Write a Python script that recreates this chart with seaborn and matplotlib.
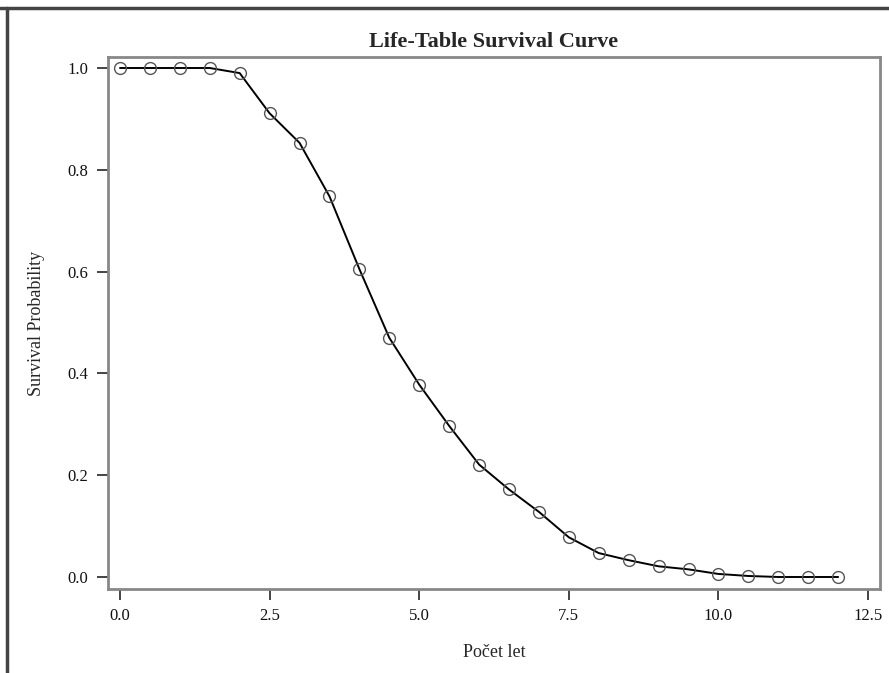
import matplotlib
matplotlib.use("Agg")
import matplotlib.pyplot as plt
from matplotlib.lines import Line2D
import seaborn as sns
import pandas as pd

years = [0, 0.5, 1, 1.5, 2, 2.5, 3, 3.5, 4, 4.5, 5, 5.5, 6, 6.5, 7, 7.5, 8, 8.5, 9, 9.5, 10, 10.5, 11, 11.5, 12]
survival = [1.0, 1.0, 1.0, 1.0, 0.99, 0.911, 0.853, 0.748, 0.605, 0.47, 0.378, 0.297, 0.221, 0.172, 0.128, 0.078, 0.047, 0.033, 0.021, 0.015, 0.006, 0.002, 0.0, 0.0, 0.0]
xticks = [0.0, 2.5, 5.0, 7.5, 10.0, 12.5]
yticks = [0.0, 0.2, 0.4, 0.6, 0.8, 1.0]

df = pd.DataFrame({"x": years, "y": survival})

sns.set_theme(style="white")
plt.rcParams["font.family"] = ["Liberation Serif", "DejaVu Serif"]

fig = plt.figure(figsize=(8.89, 6.73), dpi=100)
ax = fig.add_axes([0.1215, 0.1248, 0.8684, 0.7905])

sns.lineplot(data=df, x="x", y="y", ax=ax, color="black", linewidth=1.4,
             marker="o", markersize=8.5, markerfacecolor="none",
             markeredgecolor="#555555", markeredgewidth=1.0)

ax.set_xlim(-0.2, 12.7)
ax.set_ylim(-0.0236, 1.0216)
ax.set_xticks(xticks)
ax.set_xticklabels([f"{t:.1f}" for t in xticks])
ax.set_yticks(yticks)
ax.set_yticklabels([f"{t:.1f}" for t in yticks])
ax.tick_params(axis="both", which="both", direction="out", length=8, width=1.4,
               colors="#444444", labelcolor="#111111", labelsize=12,
               bottom=True, left=True, pad=6)
for s in ax.spines.values():
    s.set_visible(True)
    s.set_color("#888888")
    s.set_linewidth(2.0)

ax.set_xlabel("Počet let", fontsize=13, labelpad=14)
ax.set_ylabel("Survival Probability", fontsize=13, labelpad=16)
ax.set_title("Life-Table Survival Curve", fontsize=16, fontweight="bold", pad=7)

fig.add_artist(Line2D([0, 1], [1 - 7.5/673, 1 - 7.5/673], transform=fig.transFigure,
                      color="#444444", linewidth=2.5))
fig.add_artist(Line2D([6.5/889, 6.5/889], [0, 1 - 7.5/673], transform=fig.transFigure,
                      color="#444444", linewidth=2.5))

fig.savefig("out.png", dpi=100)
